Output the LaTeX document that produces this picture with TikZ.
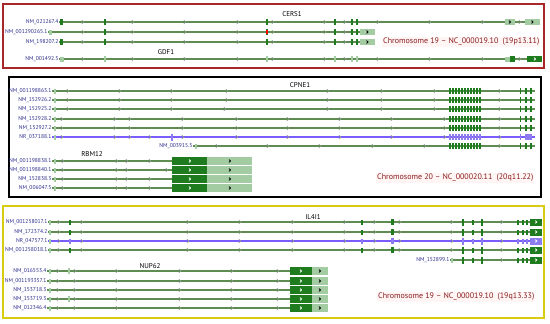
\documentclass[tikz,border=0pt]{standalone}
\usepackage{fontspec}
\setmainfont{PT Sans}
\usetikzlibrary{positioning}
\definecolor{intgreen}{HTML}{5E8C52}
\definecolor{exgreen}{HTML}{1E7B1E}
\definecolor{boxlight}{HTML}{A3CCA3}
\definecolor{ncblue}{HTML}{7A5CFF}
\definecolor{exblue}{HTML}{8C7CF0}
\definecolor{lblblue}{HTML}{2E2E8E}
\definecolor{chromred}{HTML}{8B1C1C}
\definecolor{redframe}{HTML}{A8282A}
\definecolor{yelframe}{HTML}{D8CC10}
\definecolor{chevgrey}{HTML}{889888}

\begin{document}
\begin{tikzpicture}[x=1pt, y=-1pt,
    tx/.style={font=\fontsize{5.6}{6}\selectfont, text=lblblue, anchor=east, inner sep=0.4pt},
    gene/.style={font=\fontsize{7}{8}\selectfont, inner sep=0pt},
    chrom/.style={font=\fontsize{8}{9}\selectfont, text=chromred, fill=red!4, anchor=west, inner sep=1pt},
    intron/.style={draw=intgreen, line width=1.05pt},
    ncintron/.style={draw=ncblue, line width=1.05pt},
    chev/.style={draw=chevgrey, line width=0.6pt},
    boxchev/.style={draw=black, line width=0.8pt},
    wchev/.style={draw=white, line width=0.8pt},
    exon/.style={fill=exgreen},
    lexon/.style={fill=boxlight},
    bexon/.style={fill=exblue}
  ]
  \useasboundingbox (0,0) rectangle (550,324);
  \fill[white] (0,0) rectangle (550,324);

  % panel frames
  \draw[redframe, line width=1.1pt] (3,4) rectangle (544,68);
  \draw[black, line width=1.2pt] (9,77) rectangle (541,197);
  \draw[yelframe, line width=1.2pt] (3,206) rectangle (544,318);

  % ---- chromosome 19p13.11: CERS1 / GDF1
  \node[gene] (cers1) at (292,14) {CERS1};
  \node[gene] (gdf1) at (166,52) {GDF1};
  \node[chrom] (chrA) at (382,42) {Chromosome 19 -- NC\_000019.10 \ (19p13.11)};
  \foreach \nm/\txt/\y/\xa/\xb in {nmA/NM\_021267.4/22/60/540, nmB/NM\_001290265.1/32/49/375,
                                   nmC/NM\_198207.2/42/60/375, nmD/NM\_001492.5/59/60/542} {
    \node[tx] (\nm) at (\xa-1,\y) {\txt};
    \coordinate (\nm-end) at (\xb,\y);
    \draw[intron] (\nm.east) -- (\nm-end);
    \foreach \x in {83,133,185,238,273,325,345,378,430,483,520} {
      \ifnum\x<\numexpr\xb-12\relax \draw[chev] (\x-1.2,\y-1.9) -- (\x+0.9,\y) -- (\x-1.2,\y+1.9); \fi
    }
  }
  \foreach \y in {22,32,42}
    \foreach \x in {105,267,335,352,357} \fill[exon] (\x-1.4,\y-3.2) rectangle (\x+1.4,\y+3.2);
  \foreach \x in {105,267,335,352,357} \fill[lexon] (\x-1.4,56) rectangle (\x+1.4,62);
  \fill[red] (266.4,30) rectangle (267.6,34);
  \fill[exon] (60,18.8) rectangle (63,25.2);
  \fill[lexon] (49,29.5) rectangle (52,34.5);
  \fill[exon] (60,38.8) rectangle (63,45.2);
  \fill[lexon] (60,56.5) rectangle (64,61.5);
  % 3' ends
  \foreach \xa/\xb/\y in {505/515/22, 525/540/22, 360/375/32, 360/375/42} {
    \fill[lexon] (\xa,\y-2.8) rectangle (\xb,\y+2.8);
    \draw[boxchev] ({(\xa+\xb)/2-1},\y-1.4) -- ({(\xa+\xb)/2+0.6},\y) -- ({(\xa+\xb)/2-1},\y+1.4);
  }
  \fill[lexon] (505,56.5) rectangle (510,61.5);
  \fill[exon] (510,56) rectangle (515,62);
  \fill[exon] (527,56) rectangle (542,62);
  \draw[wchev] (534,57.6) -- (535.6,59) -- (534,60.4);

  % ---- chromosome 20q11.22: CPNE1 / RBM12
  \node[gene] (cpne1) at (300,85) {CPNE1};
  \node[gene] (rbm12) at (92,154) {RBM12};
  \node[chrom] (chrB) at (376,178) {Chromosome 20 -- NC\_000020.11 \ (20q11.22)};
  \foreach \nm/\txt/\y/\xa/\sty/\chevs in {
      cpA/NM\_001198863.1/91/54/intron/{68,120,172,227,328,382,435,500},
      cpB/NM\_152926.2/100/54/intron/{68,120,172,227,328,382,435,500},
      cpC/NM\_152925.2/109/54/intron/{68,120,172,225,328,382,435,500},
      cpD/NM\_152928.2/119/54/intron/{62,115,130,183,237,288,340,392,445,500},
      cpE/NM\_152927.2/128/54/intron/{62,115,130,183,237,288,340,392,445,500},
      cpF/NR\_037188.1/137/54/ncintron/{62,115,130,150,183,237,288,340,392,445,500},
      cpG/NM\_003915.5/146/195/intron/{217,268,320,373,425,500}} {
    \node[tx] (\nm) at (\xa-2,\y) {\txt};
    \coordinate (\nm-end) at (535,\y);
    \draw[\sty] (\nm.east) -- (\nm-end);
    \foreach \x in \chevs \draw[chev] (\x-1.2,\y-1.9) -- (\x+0.9,\y) -- (\x-1.2,\y+1.9);
    \fill[lexon] (\xa-0.5,\y-2.5) rectangle (\xa+1.5,\y+2.5);
  }
  \foreach \y in {91,100,109,119,128,146} {
    \foreach \x in {450,453,...,480} \fill[exon] (\x-0.7,\y-3) rectangle (\x+0.7,\y+3);
    \fill[exon] (519.5,\y-3) rectangle (521,\y+3);
    \fill[exon] (525,\y-3) rectangle (527,\y+3);
    \fill[exon] (530,\y-3) rectangle (532,\y+3);
  }
  \foreach \x in {450,453,...,480} \fill[bexon] (\x-0.7,134) rectangle (\x+0.7,140);
  \fill[bexon] (519.5,134) rectangle (521,140);
  \fill[bexon] (525,134) rectangle (532,140);
  \fill[bexon] (171,133.5) rectangle (173,140.5);
  \foreach \nm/\txt/\y/\chevs in {rbA/NM\_001198838.1/161/{63,117,127,150},
                                  rbB/NM\_001198840.1/170/{63,117,127,167},
                                  rbC/NM\_152838.3/179/{63,117,127,150},
                                  rbD/NM\_006047.5/188/{63,117,127,150}} {
    \node[tx] (\nm) at (52,\y) {\txt};
    \coordinate (\nm-end) at (172,\y);
    \draw[intron] (\nm.east) -- (\nm-end);
    \foreach \x in \chevs \draw[chev] (\x-1.2,\y-1.9) -- (\x+0.9,\y) -- (\x-1.2,\y+1.9);
    \fill[lexon] (54,\y-2.5) rectangle (56,\y+2.5);
    \fill[exon] (172,\y-4) rectangle (207,\y+4);
    \fill[lexon] (207,\y-4) rectangle (252,\y+4);
    \draw[wchev] (189,\y-1.4) -- (190.6,\y) -- (189,\y+1.4);
    \draw[boxchev] (229,\y-1.4) -- (230.6,\y) -- (229,\y+1.4);
  }

  % ---- chromosome 19q13.33: IL4I1 / NUP62
  \node[gene] (il4i1) at (313,217) {IL4I1};
  \node[gene] (nup62) at (150,266) {NUP62};
  \node[chrom] (chrC) at (377,297) {Chromosome 19 -- NC\_000019.10 \ (19q13.33)};
  \foreach \nm/\txt/\y/\xa/\sty/\col in {ilA/NM\_001258017.1/222/50/intron/exgreen,
                                         ilB/NM\_172374.2/232/50/intron/exgreen,
                                         ilC/NR\_047577.1/241/50/ncintron/exblue,
                                         ilD/NM\_001258018.1/250/50/intron/exgreen,
                                         ilE/NM\_152899.1/260/452/intron/exgreen} {
    \node[tx] (\nm) at (\xa-2,\y) {\txt};
    \coordinate (\nm-end) at (530,\y);
    \draw[\sty] (\nm.east) -- (\nm-end);
    \foreach \x in {59,82,188,240,293,345,375,400,452,502} {
      \ifnum\x>\xa \draw[chev] (\x-1.2,\y-1.9) -- (\x+0.9,\y) -- (\x-1.2,\y+1.9); \fi
    }
    \foreach \x in {70,362,392,473,518,523,527} {
      \ifnum\x>\xa \fill[\col] (\x-0.6,\y-2.5) rectangle (\x+0.6,\y+2.5); \fi
    }
    \ifnum\xa<100 \fill[\col] (391,\y-3) rectangle (393.5,\y+3); \fi
    \fill[\col] (461.5,\y-3.5) rectangle (464,\y+3.5);
    \fill[\col] (480.5,\y-3.5) rectangle (483,\y+3.5);
    \fill[\col] (530,\y-3.5) rectangle (542,\y+3.5);
    \draw[wchev] (535.2,\y-1.4) -- (536.8,\y) -- (535.2,\y+1.4);
    \fill[lexon] (\xa-1,\y-2.5) rectangle (\xa+1,\y+2.5);
  }
  \foreach \nm/\txt/\y in {nuA/NM\_016553.4/271, nuB/NM\_001193357.1/281, nuC/NM\_153718.3/290,
                           nuD/NM\_153719.3/299, nuE/NM\_012346.4/308} {
    \node[tx] (\nm) at (47,\y) {\txt};
    \coordinate (\nm-end) at (290,\y);
    \draw[intron] (\nm.east) -- (\nm-end);
    \foreach \x in {58,75,117,180,232,278} \draw[chev] (\x-1.2,\y-1.9) -- (\x+0.9,\y) -- (\x-1.2,\y+1.9);
    \fill[lexon] (49,\y-2.5) rectangle (51,\y+2.5);
    \fill[exon] (290,\y-4) rectangle (312,\y+4);
    \fill[lexon] (312,\y-4) rectangle (328,\y+4);
    \draw[wchev] (300,\y-1.4) -- (301.6,\y) -- (300,\y+1.4);
    \draw[boxchev] (319,\y-1.4) -- (320.6,\y) -- (319,\y+1.4);
  }
  \fill[lexon] (68,268) rectangle (70,274);
  \fill[lexon] (68,296) rectangle (70,302);
\end{tikzpicture}
\end{document}
